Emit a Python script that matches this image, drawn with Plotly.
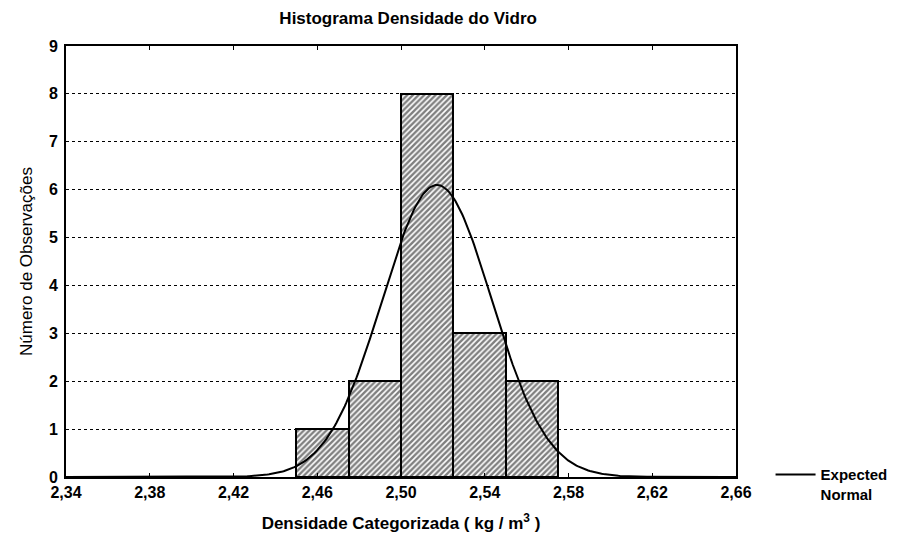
import numpy as np
import plotly.graph_objects as go

# Histogram bins (glass density, kg/m^3) and observation counts
bin_left = [2.450, 2.475, 2.500, 2.525, 2.550]
bin_width = 0.025
counts = [1, 2, 8, 3, 2]

x_tickvals = [2.34, 2.38, 2.42, 2.46, 2.50, 2.54, 2.58, 2.62, 2.66]
x_ticktext = ["2,34", "2,38", "2,42", "2,46", "2,50", "2,54", "2,58", "2,62", "2,66"]
y_tickvals = [0, 1, 2, 3, 4, 5, 6, 7, 8, 9]

# Bin centres and grouped-data statistics for the expected normal curve
centers = np.array(bin_left) + bin_width / 2
cnt = np.array(counts, dtype=float)
n = cnt.sum()
mean = (centers * cnt).sum() / n
sd = np.sqrt(((centers - mean) ** 2 * cnt).sum() / (n - 1))
xs = np.linspace(2.34, 2.66, 400)
expected = n * bin_width / (sd * np.sqrt(2 * np.pi)) * np.exp(-0.5 * ((xs - mean) / sd) ** 2)

FONT = "Liberation Sans, Arial, sans-serif"

fig = go.Figure()
fig.add_trace(go.Bar(
    x=centers, y=counts, width=bin_width,
    marker=dict(
        color="white",
        line=dict(color="black", width=2),
        pattern=dict(shape="/", fgcolor="black", bgcolor="white", size=4, solidity=0.6),
    ),
    showlegend=False, hoverinfo="x+y",
))
fig.add_trace(go.Scatter(
    x=xs, y=expected, mode="lines",
    line=dict(color="black", width=2),
    name="Expected<br>Normal",
))

fig.update_layout(
    width=903, height=552,
    paper_bgcolor="white", plot_bgcolor="white",
    margin=dict(l=66, r=166, t=46, b=75),
    font=dict(family=FONT, color="black"),
    title=dict(text="Histograma Densidade do Vidro", x=0.452, xanchor="center",
               y=0.968, yanchor="middle",
               font=dict(size=17, color="black", weight="bold")),
    bargap=0,
    legend=dict(x=1.05, y=-0.017, xanchor="left", yanchor="middle",
                font=dict(size=15, color="black", weight="bold"), valign="top",
                bgcolor="rgba(0,0,0,0)", itemwidth=40, tracegroupgap=0),
)
fig.update_xaxes(
    range=[2.34, 2.66], tickvals=x_tickvals, ticktext=x_ticktext,
    showgrid=False, zeroline=False,
    showline=True, linecolor="black", linewidth=2, mirror="ticks",
    ticks="inside", ticklen=4, tickcolor="black", ticklabelstandoff=0,
    tickfont=dict(size=16, family=FONT, weight="bold"),
    title=dict(text="Densidade Categorizada ( kg / m<sup>3</sup> )",
               font=dict(size=17, family=FONT, weight="bold"), standoff=17),
)
fig.update_yaxes(
    range=[0, 9], tickvals=y_tickvals,
    showgrid=True, gridcolor="black", griddash="dot", gridwidth=1,
    zeroline=False,
    showline=True, linecolor="black", linewidth=2, mirror=True,
    ticks="", ticklabelstandoff=3,
    tickfont=dict(size=16, family=FONT, weight="bold"),
    title=dict(text="Número de Observações", font=dict(size=17, family=FONT), standoff=12),
)

fig.write_html("out.html")
